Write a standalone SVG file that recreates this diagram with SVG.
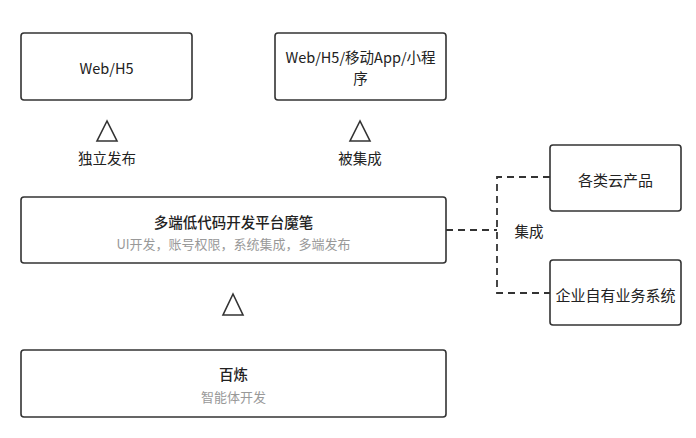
<svg xmlns="http://www.w3.org/2000/svg" width="696" height="438" viewBox="0 0 696 438">
<style>
.box{fill:#fff;stroke:#333;stroke-width:1.6}
.tri{fill:none;stroke:#333;stroke-width:1.6;stroke-linejoin:miter}
.dash{fill:none;stroke:#333;stroke-width:1.8;stroke-dasharray:7 5}
text{font-family:"Noto Sans CJK SC","Noto Sans",sans-serif;text-anchor:middle;dominant-baseline:central;fill:#222}
.t{font-size:14.5px}
.r{font-size:15px}
.h{font-size:14.5px;font-weight:500}
.s{font-size:13px;fill:#999}
</style>
<rect width="696" height="438" fill="#fff"/>
<g id="web-h5">
<rect class="box" x="21" y="33" width="171" height="67" rx="3"/>
<text class="t" x="106.5" y="67">Web/H5</text>
</g>
<g id="multi">
<rect class="box" x="275" y="33" width="171" height="67" rx="3"/>
<text class="t" x="360.5" y="56">Web/H5/移动App/小程</text>
<text class="t" x="360.5" y="77">序</text>
</g>
<g id="tri1">
<polygon class="tri" points="107,121 97,141 117,141"/>
<text class="t" x="107" y="157">独立发布</text>
</g>
<g id="tri2">
<polygon class="tri" points="360,121 350,141 370,141"/>
<text class="t" x="360" y="157">被集成</text>
</g>
<g id="mobi">
<rect class="box" x="21" y="197" width="425" height="66" rx="3"/>
<text class="h" x="233.5" y="221">多端低代码开发平台魔笔</text>
<text class="s" x="233.5" y="243">UI开发，账号权限，系统集成，多端发布</text>
</g>
<g id="tri3">
<polygon class="tri" points="233,294 223,315 243,315"/>
</g>
<g id="bailian">
<rect class="box" x="21" y="350" width="425" height="67" rx="3"/>
<text class="h" x="233.5" y="373">百炼</text>
<text class="s" x="233.5" y="396">智能体开发</text>
</g>
<g id="cloud">
<rect class="box" x="550" y="145" width="131" height="66" rx="3"/>
<text class="r" x="615.5" y="179">各类云产品</text>
</g>
<g id="enterprise">
<rect class="box" x="550" y="260" width="131" height="65" rx="3"/>
<text class="r" x="615.5" y="294">企业自有业务系统</text>
</g>
<g id="connectors">
<path class="dash" d="M446,230 H497"/>
<path class="dash" d="M550,177 H497 V293 H550"/>
<text class="t" x="529" y="230">集成</text>
</g>
</svg>
